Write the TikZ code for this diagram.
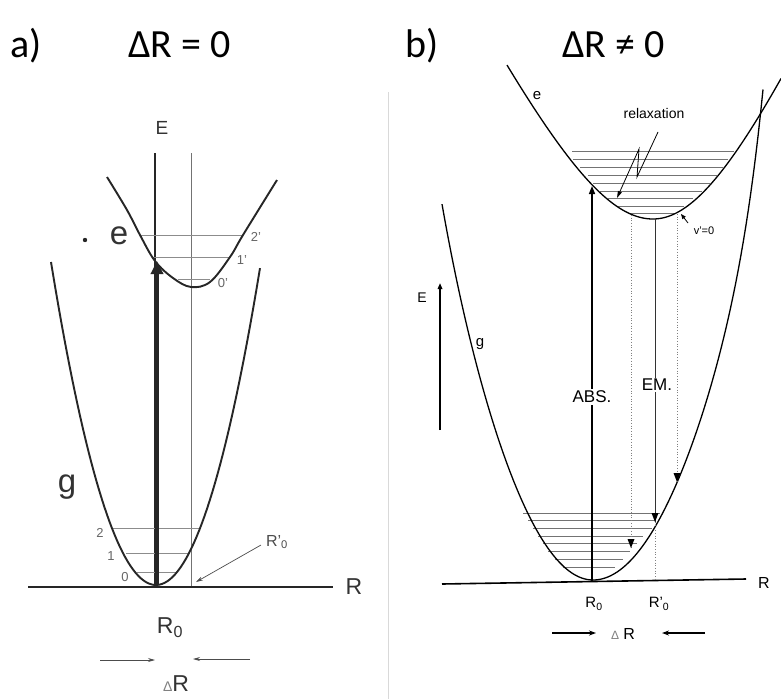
\documentclass[tikz,border=0pt]{standalone}
\usepackage{fontspec}
\setmainfont{Liberation Sans}
\newfontfamily\titlefont{Carlito}
\usetikzlibrary{arrows.meta}
\begin{document}
\begin{tikzpicture}[x=1pt,y=-1pt,
  curveA/.style={line width=1.9pt,draw=black!85,line join=round},
  levelA/.style={line width=0.6pt,draw=black!45},
  axisA/.style={line width=1.3pt,draw=black!85},
  thinA/.style={line width=0.7pt,draw=black!70,-{Stealth[length=7pt,width=4pt]}},
  numA/.style={font=\fontsize{13}{14}\selectfont,text=black!60,inner sep=0pt},
  curveB/.style={line width=1.3pt,draw=black,line join=round},
  levelB/.style={line width=0.6pt,draw=black!55},
  dotB/.style={line width=0.7pt,draw=black!50,dotted},
  lblB/.style={font=\fontsize{13}{14}\selectfont,inner sep=0pt},
  ttl/.style={font=\titlefont\fontsize{40}{44}\selectfont,anchor=base west,inner sep=0pt}]
\useasboundingbox (0,0) rectangle (781,699);
\fill[white] (0,0) rectangle (781,699);

% faint divider
\draw[black!15,line width=0.8pt] (388,92) -- (388,699);

% ---------- titles ----------
\node[ttl] (ta) at (10,57) {a)};
\node[ttl] (tda) at (128,57) {ΔR = 0};
\node[ttl] (tb) at (405,57) {b)};
\node[ttl] (tdb) at (562,57) {ΔR ≠ 0};

% ---------- panel a ----------
\draw[axisA] (155,153) -- (155,585);
\draw[line width=0.6pt,black!55] (191,153) -- (191,587);
\draw[line width=1.9pt,black!85] (28,587) -- (333,587);
% levels e
\draw[levelA] (140,235) -- (243,235);
\draw[levelA] (153,257) -- (229,257);
\draw[levelA] (178,279) -- (210,279);
% levels g
\draw[levelA] (113,528) -- (200,528);
\draw[levelA] (126,553) -- (190,553);
\draw[levelA] (137,572) -- (177,572);
% e curve
\draw[curveA] plot[smooth,tension=0.6] coordinates {(107,177) (127,210) (140,235) (155,261) (173,278) (191,287) (210,282) (230,257) (243,235) (277,180)};
% g curve
\draw[curveA] plot[domain=51:260,samples=80] (\x,{585-0.0293*(\x-156)^2});
% thick absorption arrow
\coordinate (a0) at (157,585);
\coordinate (a1) at (157,261);
\draw[line width=4pt,black!85,-{Triangle[length=13pt,width=12pt]}] (a0) -- (a1);
% labels
\node[font=\fontsize{19}{20}\selectfont,text=black!80,inner sep=0pt] (Ea) at (162,128) {E};
\node[font=\fontsize{33}{34}\selectfont,text=black!80,inner sep=0pt] (ea) at (119,236) {e};
\fill[black!85] (85,240) circle (2.2);
\node[font=\fontsize{33}{34}\selectfont,text=black!80,inner sep=0pt] (ga) at (67,487) {g};
\node[numA] (n2p) at (256,237) {2'};
\node[numA] (n1p) at (242,260) {1'};
\node[numA] (n0p) at (223,283) {0'};
\node[numA] (n2) at (100,533) {2};
\node[numA] (n1) at (111,556) {1};
\node[numA] (n0) at (125,577) {0};
\node[font=\fontsize{23}{24}\selectfont,text=black!80,inner sep=0pt] (Ra) at (354,587) {R};
\node[font=\fontsize{23}{24}\selectfont,text=black!80,inner sep=0pt] (R0a) at (170,628) {R\textsubscript{0}};
\node[font=\fontsize{16}{17}\selectfont,text=black!70,inner sep=0pt] (Rpa) at (277,542) {R'\textsubscript{0}};
\coordinate (rp1) at (261,545);
\coordinate (rp2) at (196,582);
\draw[thinA] (rp1) -- (rp2);
\coordinate (dl1) at (100,660);
\coordinate (dl2) at (155,660);
\coordinate (dr1) at (250,659);
\coordinate (dr2) at (193,659);
\draw[thinA] (dl1) -- (dl2);
\draw[thinA] (dr1) -- (dr2);
\node[font=\fontsize{23}{24}\selectfont,text=black!80,inner sep=0pt] (DRa) at (176,684) {\textcolor{black!50}{\fontsize{14}{14}\selectfont Δ}R};

% ---------- panel b ----------
\draw[line width=1.6pt] (442,584) -- (746,579);
% levels excited
\foreach \yy/\xl/\xr in {151/572/734,159/573/728,167/580/723,175/588/717,183/593/710,191/600/702,198/608/693,206/617/684,213/630/676}
  \draw[levelB] (\xl,\yy) -- (\xr,\yy);
% levels ground
\foreach \yy/\xl/\xr in {513/523/660,520/528/655,528/533/652,536/538/643,543/543/637,551/548/630,559/555/623,567/563/615}
  \draw[levelB] (\xl,\yy) -- (\xr,\yy);
% e curve (two hyperbolic halves, minimum at (653,219))
\draw[curveB] plot[domain=507:653,samples=60] (\x,{219-200*(sqrt(1+((\x-653)/100)^2)-1)})
  -- plot[domain=653:781,samples=60] (\x,{219-225*(sqrt(1+((\x-653)/100)^2)-1)});
% g curve (minimum at (593,580))
\draw[curveB] plot[domain=442:593,samples=70] (\x,{580-157*((\x-593)/100)^2*(1+0.05*((593-\x)/151)^6)})
  -- plot[domain=593:763,samples=70] (\x,{580-138*((\x-593)/100)^2*(1+0.23*((\x-593)/170)^8)});
% dotted emission lines
\coordinate (d1t) at (631,215);
\coordinate (d1b) at (631,548);
\coordinate (d2t) at (677,214);
\coordinate (d2b) at (677,482);
\draw[dotB] (d1t) -- (d1b);
\draw[dotB] (d2t) -- (d2b);
\fill (d1b) -- ++(-3.5,-9) -- ++(7,0) -- cycle;
\fill (d2b) -- ++(-3.5,-9) -- ++(7,0) -- cycle;
% EM line
\coordinate (emt) at (655,219);
\coordinate (emb) at (655,522);
\coordinate (rpb) at (655,580);
\draw[line width=0.8pt,black!80] (emt) -- (emb);
\fill (emb) -- ++(-3.5,-9) -- ++(7,0) -- cycle;
\draw[dotB] (emb) -- (rpb);
% ABS arrow
\coordinate (abs0) at (592,581);
\coordinate (abs1) at (592,186);
\draw[line width=1.5pt,-{Triangle[length=8pt,width=6pt]}] (abs0) -- (abs1);
\node[font=\fontsize{17}{18}\selectfont,fill=white,inner sep=1.5pt] (ABS) at (592,397) {ABS.};
\node[font=\fontsize{17}{18}\selectfont,fill=white,inner sep=1.5pt] (EM) at (657,385) {EM.};
% E arrow
\coordinate (Eb0) at (440,430);
\coordinate (Eb1) at (440,283);
\draw[line width=1.5pt,-{Triangle[length=6pt,width=4.5pt]}] (Eb0) -- (Eb1);
\node[lblB,font=\fontsize{14}{15}\selectfont] (Eb) at (422,298) {E};
\node[lblB,font=\fontsize{15}{16}\selectfont] (gb) at (480,344) {g};
\node[lblB,font=\fontsize{15}{16}\selectfont] (eb) at (537,96) {e};
\node[lblB,font=\fontsize{14}{15}\selectfont] (relax) at (654,113) {relaxation};
% relaxation zigzag
\coordinate (z1) at (658,132);
\coordinate (z2) at (637,177);
\coordinate (z3) at (639,149);
\coordinate (z4) at (617,198);
\draw[line width=0.8pt,line join=miter,-{Triangle[length=7pt,width=4pt]}] (z1) -- (z2) -- (z3) -- (z4);
% v'=0
\node[lblB,font=\fontsize{11}{12}\selectfont] (vp) at (704,231) {v'=0};
\coordinate (v1) at (688,223);
\coordinate (v2) at (681,214);
\draw[line width=0.8pt,-{Triangle[length=5pt,width=4pt]}] (v1) -- (v2);
% R labels
\node[lblB,font=\fontsize{16}{17}\selectfont] (Rb) at (764,583) {R};
\node[lblB,font=\fontsize{15}{16}\selectfont] (R0b) at (594,604) {R\textsubscript{0}};
\node[lblB,font=\fontsize{15}{16}\selectfont] (Rpb) at (659,604) {R'\textsubscript{0}};
% Delta R arrows
\coordinate (bl1) at (552,633);
\coordinate (bl2) at (596,633);
\coordinate (br1) at (705,633);
\coordinate (br2) at (662,633);
\draw[line width=1.3pt,-{Stealth[length=7pt,width=5pt]}] (bl1) -- (bl2);
\draw[line width=1.3pt,-{Stealth[length=7pt,width=5pt]}] (br1) -- (br2);
\node[lblB,font=\fontsize{16}{17}\selectfont] (DRb) at (623,634) {\textcolor{black!50}{\fontsize{12}{12}\selectfont Δ} R};
\end{tikzpicture}
\end{document}
